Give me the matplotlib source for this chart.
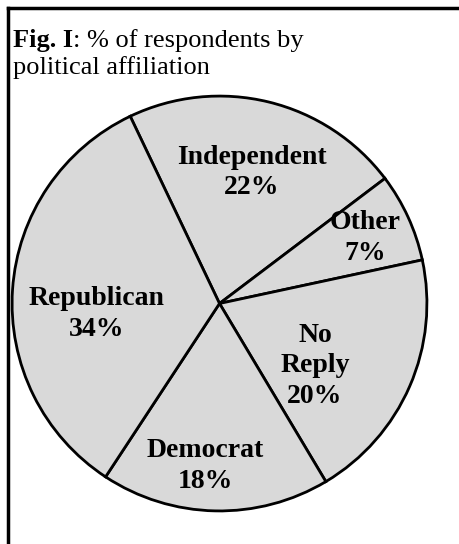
import matplotlib.pyplot as plt
from matplotlib.lines import Line2D

# data
parties = ["Independent", "Other", "No\nReply", "Democrat", "Republican"]
shares = [22, 7, 20, 18, 34]

# label placement (data units, pie radius = 1)
label_pos = [(0.155, 0.632), (0.70, 0.317), (0.46, -0.30), (-0.07, -0.785), (-0.594, -0.05)]

W, H = 459, 544
fig = plt.figure(figsize=(W / 100, H / 100), dpi=100)

cx, cy, r = 219.5, 303.5, 209.5
ax = fig.add_axes([(cx - r) / W, (H - cy - r) / H, 2 * r / W, 2 * r / H])
ax.pie(shares, startangle=115.5, counterclock=False, radius=1,
       colors=["#d9d9d9"] * len(shares),
       wedgeprops=dict(edgecolor="black", linewidth=2))
ax.set_xlim(-1.01, 1.01)
ax.set_ylim(-1.01, 1.01)
ax.set_aspect("equal")
ax.axis("off")

for name, val, (x, y) in zip(parties, shares, label_pos):
    ax.text(x, y, f"{name}\n{val}%", ha="center", va="center",
            family="Liberation Serif", weight="bold", fontsize=20,
            linespacing=1.3)

# frame (only top and left edges visible)
fig.add_artist(Line2D([7.5 / W, 1], [1 - 8 / H, 1 - 8 / H], color="black", lw=2.5,
                      transform=fig.transFigure))
fig.add_artist(Line2D([7.5 / W, 7.5 / W], [0, 1 - 8 / H], color="black", lw=2.5,
                      transform=fig.transFigure))

# title with bold "Fig. I"
t1 = fig.text(13 / W, 1 - 47 / H, "Fig. I", family="Liberation Serif",
              weight="bold", fontsize=19, va="baseline")
fig.canvas.draw()
bb = t1.get_window_extent(fig.canvas.get_renderer())
fig.text(bb.x1 / W, 1 - 47 / H, ": % of respondents by", family="Liberation Serif",
         fontsize=19, va="baseline")
fig.text(13 / W, 1 - 74 / H, "political affiliation", family="Liberation Serif",
         fontsize=19, va="baseline")

fig.savefig("out.png", dpi=100, facecolor="white")
